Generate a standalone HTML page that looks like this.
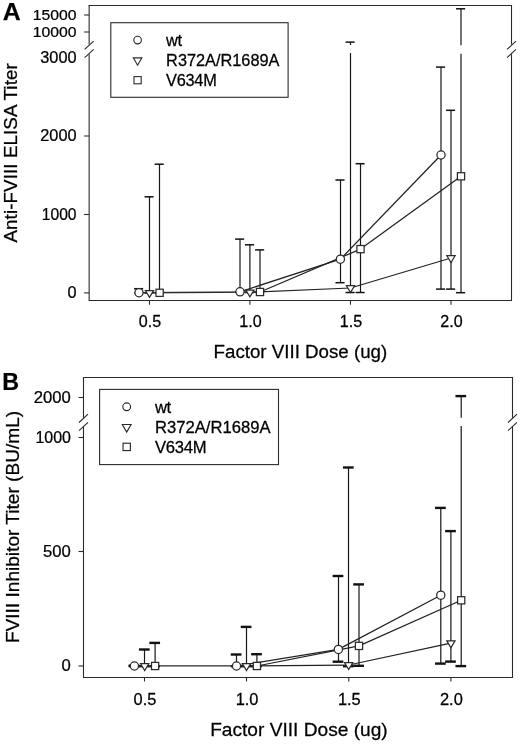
<!DOCTYPE html>
<html><head><meta charset="utf-8"><title>Figure</title>
<style>
html,body{margin:0;padding:0;background:#fff;}
svg{display:block;}
text{font-family:"Liberation Sans",sans-serif;}
</style></head>
<body>
<svg width="520" height="745" viewBox="0 0 520 745">
<rect x="0" y="0" width="520" height="745" fill="#fff"/>
<line x1="88.65" y1="5.50" x2="512.00" y2="5.50" stroke="#2a2a2a" stroke-width="1.1" />
<line x1="88.65" y1="300.50" x2="512.00" y2="300.50" stroke="#2a2a2a" stroke-width="1.1" />
<line x1="89.15" y1="5.30" x2="89.15" y2="44.60" stroke="#2a2a2a" stroke-width="1.1" />
<line x1="89.15" y1="54.20" x2="89.15" y2="300.50" stroke="#2a2a2a" stroke-width="1.1" />
<line x1="84.65" y1="49.40" x2="93.65" y2="41.10" stroke="#2a2a2a" stroke-width="1.1" />
<line x1="84.65" y1="57.70" x2="93.65" y2="49.40" stroke="#2a2a2a" stroke-width="1.1" />
<line x1="511.50" y1="5.30" x2="511.50" y2="44.60" stroke="#2a2a2a" stroke-width="1.1" />
<line x1="511.50" y1="54.20" x2="511.50" y2="300.50" stroke="#2a2a2a" stroke-width="1.1" />
<line x1="507.00" y1="49.40" x2="516.00" y2="41.10" stroke="#2a2a2a" stroke-width="1.1" />
<line x1="507.00" y1="57.70" x2="516.00" y2="49.40" stroke="#2a2a2a" stroke-width="1.1" />
<line x1="84.15" y1="15.00" x2="89.15" y2="15.00" stroke="#2a2a2a" stroke-width="1.1" />
<text transform="translate(76.55,20.00) scale(1.065,1)" font-size="14.77" text-anchor="end" font-weight="normal" letter-spacing="0" fill="#000" stroke="#000" stroke-width="0.25">15000</text>
<line x1="84.15" y1="32.00" x2="89.15" y2="32.00" stroke="#2a2a2a" stroke-width="1.1" />
<text transform="translate(76.55,37.00) scale(1.065,1)" font-size="14.77" text-anchor="end" font-weight="normal" letter-spacing="0" fill="#000" stroke="#000" stroke-width="0.25">10000</text>
<text transform="translate(76.55,62.60) scale(1.035,1)" font-size="15.80" text-anchor="end" font-weight="normal" letter-spacing="0" fill="#000" stroke="#000" stroke-width="0.25">3000</text>
<line x1="84.15" y1="136.00" x2="89.15" y2="136.00" stroke="#2a2a2a" stroke-width="1.1" />
<text transform="translate(76.55,141.30) scale(1.035,1)" font-size="15.80" text-anchor="end" font-weight="normal" letter-spacing="0" fill="#000" stroke="#000" stroke-width="0.25">2000</text>
<line x1="84.15" y1="214.50" x2="89.15" y2="214.50" stroke="#2a2a2a" stroke-width="1.1" />
<text transform="translate(76.55,219.75) scale(0.99,1)" font-size="15.80" text-anchor="end" font-weight="normal" letter-spacing="0" fill="#000" stroke="#000" stroke-width="0.25">1000</text>
<line x1="84.15" y1="292.90" x2="89.15" y2="292.90" stroke="#2a2a2a" stroke-width="1.1" />
<text transform="translate(76.55,298.20) scale(1.035,1)" font-size="15.80" text-anchor="end" font-weight="normal" letter-spacing="0" fill="#000" stroke="#000" stroke-width="0.25">0</text>
<line x1="149.50" y1="300.50" x2="149.50" y2="304.70" stroke="#2a2a2a" stroke-width="1.1" />
<text transform="translate(150.00,327.40) scale(1.02,1)" font-size="15.80" text-anchor="middle" font-weight="normal" letter-spacing="0" fill="#000" stroke="#000" stroke-width="0.25">0.5</text>
<line x1="249.90" y1="300.50" x2="249.90" y2="304.70" stroke="#2a2a2a" stroke-width="1.1" />
<text transform="translate(250.40,327.40) scale(1.02,1)" font-size="15.80" text-anchor="middle" font-weight="normal" letter-spacing="0" fill="#000" stroke="#000" stroke-width="0.25">1.0</text>
<line x1="350.50" y1="300.50" x2="350.50" y2="304.70" stroke="#2a2a2a" stroke-width="1.1" />
<text transform="translate(351.00,327.40) scale(1.02,1)" font-size="15.80" text-anchor="middle" font-weight="normal" letter-spacing="0" fill="#000" stroke="#000" stroke-width="0.25">1.5</text>
<line x1="451.00" y1="300.50" x2="451.00" y2="304.70" stroke="#2a2a2a" stroke-width="1.1" />
<text transform="translate(451.50,327.40) scale(1.02,1)" font-size="15.80" text-anchor="middle" font-weight="normal" letter-spacing="0" fill="#000" stroke="#000" stroke-width="0.25">2.0</text>
<line x1="139.00" y1="288.70" x2="139.00" y2="292.90" stroke="#161616" stroke-width="1.2" />
<line x1="134.05" y1="288.70" x2="143.15" y2="288.70" stroke="#111" stroke-width="1.5" />
<line x1="134.05" y1="292.90" x2="143.15" y2="292.90" stroke="#111" stroke-width="1.5" />
<line x1="240.00" y1="239.10" x2="240.00" y2="292.00" stroke="#161616" stroke-width="1.2" />
<line x1="235.05" y1="239.10" x2="244.15" y2="239.10" stroke="#111" stroke-width="1.5" />
<line x1="235.05" y1="292.00" x2="244.15" y2="292.00" stroke="#111" stroke-width="1.5" />
<line x1="340.50" y1="180.00" x2="340.50" y2="282.70" stroke="#161616" stroke-width="1.2" />
<line x1="335.45" y1="180.00" x2="344.55" y2="180.00" stroke="#111" stroke-width="1.5" />
<line x1="335.45" y1="282.70" x2="344.55" y2="282.70" stroke="#111" stroke-width="1.5" />
<line x1="441.00" y1="67.10" x2="441.00" y2="289.10" stroke="#161616" stroke-width="1.2" />
<line x1="436.05" y1="67.10" x2="445.15" y2="67.10" stroke="#111" stroke-width="1.5" />
<line x1="436.05" y1="289.10" x2="445.15" y2="289.10" stroke="#111" stroke-width="1.5" />
<line x1="149.50" y1="196.80" x2="149.50" y2="292.90" stroke="#161616" stroke-width="1.2" />
<line x1="144.55" y1="196.80" x2="153.65" y2="196.80" stroke="#111" stroke-width="1.5" />
<line x1="144.55" y1="292.90" x2="153.65" y2="292.90" stroke="#111" stroke-width="1.5" />
<line x1="249.90" y1="244.80" x2="249.90" y2="292.50" stroke="#161616" stroke-width="1.2" />
<line x1="244.95" y1="244.80" x2="254.05" y2="244.80" stroke="#111" stroke-width="1.5" />
<line x1="244.95" y1="292.50" x2="254.05" y2="292.50" stroke="#111" stroke-width="1.5" />
<line x1="350.50" y1="42.10" x2="350.50" y2="45.00" stroke="#161616" stroke-width="1.2" />
<line x1="350.50" y1="53.10" x2="350.50" y2="292.50" stroke="#161616" stroke-width="1.2" />
<line x1="345.55" y1="42.10" x2="354.65" y2="42.10" stroke="#111" stroke-width="1.5" />
<line x1="345.55" y1="292.50" x2="354.65" y2="292.50" stroke="#111" stroke-width="1.5" />
<line x1="451.00" y1="110.30" x2="451.00" y2="289.10" stroke="#161616" stroke-width="1.2" />
<line x1="446.05" y1="110.30" x2="455.15" y2="110.30" stroke="#111" stroke-width="1.5" />
<line x1="446.05" y1="289.10" x2="455.15" y2="289.10" stroke="#111" stroke-width="1.5" />
<line x1="159.50" y1="164.20" x2="159.50" y2="292.90" stroke="#161616" stroke-width="1.2" />
<line x1="154.65" y1="164.20" x2="163.75" y2="164.20" stroke="#111" stroke-width="1.5" />
<line x1="154.65" y1="292.90" x2="163.75" y2="292.90" stroke="#111" stroke-width="1.5" />
<line x1="260.00" y1="249.90" x2="260.00" y2="292.30" stroke="#161616" stroke-width="1.2" />
<line x1="255.05" y1="249.90" x2="264.15" y2="249.90" stroke="#111" stroke-width="1.5" />
<line x1="255.05" y1="292.30" x2="264.15" y2="292.30" stroke="#111" stroke-width="1.5" />
<line x1="360.50" y1="163.70" x2="360.50" y2="292.50" stroke="#161616" stroke-width="1.2" />
<line x1="355.55" y1="163.70" x2="364.65" y2="163.70" stroke="#111" stroke-width="1.5" />
<line x1="355.55" y1="292.50" x2="364.65" y2="292.50" stroke="#111" stroke-width="1.5" />
<line x1="461.00" y1="8.80" x2="461.00" y2="45.20" stroke="#161616" stroke-width="1.2" />
<line x1="461.00" y1="53.80" x2="461.00" y2="292.70" stroke="#161616" stroke-width="1.2" />
<line x1="456.05" y1="8.80" x2="465.15" y2="8.80" stroke="#111" stroke-width="1.5" />
<line x1="456.05" y1="292.70" x2="465.15" y2="292.70" stroke="#111" stroke-width="1.5" />
<line x1="240.00" y1="291.80" x2="340.40" y2="259.20" stroke="#222" stroke-width="1.25" />
<line x1="340.40" y1="259.20" x2="441.00" y2="155.00" stroke="#222" stroke-width="1.25" />
<line x1="249.90" y1="292.30" x2="350.50" y2="288.00" stroke="#222" stroke-width="1.25" />
<line x1="350.50" y1="288.00" x2="451.00" y2="258.00" stroke="#222" stroke-width="1.25" />
<line x1="260.00" y1="292.00" x2="360.50" y2="249.10" stroke="#222" stroke-width="1.25" />
<line x1="360.50" y1="249.10" x2="461.00" y2="176.30" stroke="#222" stroke-width="1.25" />
<line x1="139.00" y1="292.75" x2="260.00" y2="292.00" stroke="#2a2a2a" stroke-width="1.4" />
<circle cx="139.00" cy="292.70" r="4.1" fill="#fff" stroke="#2a2a2a" stroke-width="1.25"/>
<circle cx="240.00" cy="291.80" r="4.1" fill="#fff" stroke="#2a2a2a" stroke-width="1.25"/>
<circle cx="340.40" cy="259.20" r="4.1" fill="#fff" stroke="#2a2a2a" stroke-width="1.25"/>
<circle cx="441.00" cy="155.00" r="4.1" fill="#fff" stroke="#2a2a2a" stroke-width="1.25"/>
<polygon points="145.40,290.50 153.60,290.50 149.50,297.40" fill="#fff" stroke="#2a2a2a" stroke-width="1.25"/>
<polygon points="245.80,290.00 254.00,290.00 249.90,296.90" fill="#fff" stroke="#2a2a2a" stroke-width="1.25"/>
<polygon points="346.40,285.70 354.60,285.70 350.50,292.60" fill="#fff" stroke="#2a2a2a" stroke-width="1.25"/>
<polygon points="446.90,255.70 455.10,255.70 451.00,262.60" fill="#fff" stroke="#2a2a2a" stroke-width="1.25"/>
<rect x="156.00" y="289.20" width="7.2" height="7.2" fill="#fff" stroke="#2a2a2a" stroke-width="1.25"/>
<rect x="256.40" y="288.40" width="7.2" height="7.2" fill="#fff" stroke="#2a2a2a" stroke-width="1.25"/>
<rect x="356.90" y="245.50" width="7.2" height="7.2" fill="#fff" stroke="#2a2a2a" stroke-width="1.25"/>
<rect x="457.40" y="172.70" width="7.2" height="7.2" fill="#fff" stroke="#2a2a2a" stroke-width="1.25"/>
<rect x="110.8" y="22.7" width="177.3" height="74.6" fill="#fff" stroke="#2a2a2a" stroke-width="1.1"/>
<circle cx="137.60" cy="40.10" r="3.8" fill="#fff" stroke="#2a2a2a" stroke-width="1.1"/>
<polygon points="133.30,57.83 141.90,57.83 137.60,65.23" fill="#fff" stroke="#2a2a2a" stroke-width="1.1"/>
<rect x="134.00" y="76.60" width="7.2" height="7.2" fill="#fff" stroke="#2a2a2a" stroke-width="1.1"/>
<text transform="translate(166.10,45.70) scale(1.04,1)" font-size="15.70" text-anchor="start" font-weight="normal" letter-spacing="-0.3" fill="#000" stroke="#000" stroke-width="0.25">wt</text>
<text transform="translate(166.10,65.80) scale(1.04,1)" font-size="15.70" text-anchor="start" font-weight="normal" letter-spacing="0" fill="#000" stroke="#000" stroke-width="0.25">R372A/R1689A</text>
<text transform="translate(166.10,85.90) scale(1.04,1)" font-size="15.70" text-anchor="start" font-weight="normal" letter-spacing="-0.25" fill="#000" stroke="#000" stroke-width="0.25">V634M</text>
<line x1="83.00" y1="377.50" x2="513.00" y2="377.50" stroke="#2a2a2a" stroke-width="1.1" />
<line x1="83.00" y1="677.50" x2="513.00" y2="677.50" stroke="#2a2a2a" stroke-width="1.1" />
<line x1="83.50" y1="377.50" x2="83.50" y2="417.80" stroke="#2a2a2a" stroke-width="1.1" />
<line x1="83.50" y1="426.60" x2="83.50" y2="677.30" stroke="#2a2a2a" stroke-width="1.1" />
<line x1="79.00" y1="422.50" x2="88.00" y2="414.10" stroke="#2a2a2a" stroke-width="1.1" />
<line x1="79.00" y1="430.70" x2="88.00" y2="422.30" stroke="#2a2a2a" stroke-width="1.1" />
<line x1="512.50" y1="377.50" x2="512.50" y2="417.80" stroke="#2a2a2a" stroke-width="1.1" />
<line x1="512.50" y1="426.60" x2="512.50" y2="677.30" stroke="#2a2a2a" stroke-width="1.1" />
<line x1="508.00" y1="422.50" x2="517.00" y2="414.10" stroke="#2a2a2a" stroke-width="1.1" />
<line x1="508.00" y1="430.70" x2="517.00" y2="422.30" stroke="#2a2a2a" stroke-width="1.1" />
<line x1="78.50" y1="397.50" x2="83.50" y2="397.50" stroke="#2a2a2a" stroke-width="1.1" />
<text transform="translate(70.90,402.80) scale(1.035,1)" font-size="16.12" text-anchor="end" font-weight="normal" letter-spacing="0" fill="#000" stroke="#000" stroke-width="0.25">2000</text>
<line x1="78.50" y1="437.50" x2="83.50" y2="437.50" stroke="#2a2a2a" stroke-width="1.1" />
<text transform="translate(70.90,443.00) scale(0.99,1)" font-size="16.12" text-anchor="end" font-weight="normal" letter-spacing="0" fill="#000" stroke="#000" stroke-width="0.25">1000</text>
<line x1="78.50" y1="551.50" x2="83.50" y2="551.50" stroke="#2a2a2a" stroke-width="1.1" />
<text transform="translate(70.90,556.80) scale(1.035,1)" font-size="16.12" text-anchor="end" font-weight="normal" letter-spacing="0" fill="#000" stroke="#000" stroke-width="0.25">500</text>
<line x1="78.50" y1="666.00" x2="83.50" y2="666.00" stroke="#2a2a2a" stroke-width="1.1" />
<text transform="translate(70.90,671.30) scale(1.035,1)" font-size="16.12" text-anchor="end" font-weight="normal" letter-spacing="0" fill="#000" stroke="#000" stroke-width="0.25">0</text>
<line x1="144.50" y1="677.30" x2="144.50" y2="681.50" stroke="#2a2a2a" stroke-width="1.1" />
<text transform="translate(145.00,704.60) scale(1.02,1)" font-size="16.12" text-anchor="middle" font-weight="normal" letter-spacing="0" fill="#000" stroke="#000" stroke-width="0.25">0.5</text>
<line x1="246.50" y1="677.30" x2="246.50" y2="681.50" stroke="#2a2a2a" stroke-width="1.1" />
<text transform="translate(247.10,704.60) scale(1.02,1)" font-size="16.12" text-anchor="middle" font-weight="normal" letter-spacing="0" fill="#000" stroke="#000" stroke-width="0.25">1.0</text>
<line x1="348.80" y1="677.30" x2="348.80" y2="681.50" stroke="#2a2a2a" stroke-width="1.1" />
<text transform="translate(349.30,704.60) scale(1.02,1)" font-size="16.12" text-anchor="middle" font-weight="normal" letter-spacing="0" fill="#000" stroke="#000" stroke-width="0.25">1.5</text>
<line x1="450.90" y1="677.30" x2="450.90" y2="681.50" stroke="#2a2a2a" stroke-width="1.1" />
<text transform="translate(451.40,704.60) scale(1.02,1)" font-size="16.12" text-anchor="middle" font-weight="normal" letter-spacing="0" fill="#000" stroke="#000" stroke-width="0.25">2.0</text>
<line x1="134.50" y1="665.60" x2="134.50" y2="666.20" stroke="#161616" stroke-width="1.2" />
<line x1="128.65" y1="665.60" x2="139.35" y2="665.60" stroke="#111" stroke-width="2.4" />
<line x1="128.65" y1="666.20" x2="139.35" y2="666.20" stroke="#111" stroke-width="2.4" />
<line x1="236.50" y1="654.50" x2="236.50" y2="666.20" stroke="#161616" stroke-width="1.2" />
<line x1="230.75" y1="654.50" x2="241.45" y2="654.50" stroke="#111" stroke-width="2.4" />
<line x1="230.75" y1="666.20" x2="241.45" y2="666.20" stroke="#111" stroke-width="2.4" />
<line x1="338.50" y1="576.00" x2="338.50" y2="661.70" stroke="#161616" stroke-width="1.2" />
<line x1="332.65" y1="576.00" x2="343.35" y2="576.00" stroke="#111" stroke-width="2.4" />
<line x1="332.65" y1="661.70" x2="343.35" y2="661.70" stroke="#111" stroke-width="2.4" />
<line x1="440.80" y1="507.90" x2="440.80" y2="663.60" stroke="#161616" stroke-width="1.2" />
<line x1="435.05" y1="507.90" x2="445.75" y2="507.90" stroke="#111" stroke-width="2.4" />
<line x1="435.05" y1="663.60" x2="445.75" y2="663.60" stroke="#111" stroke-width="2.4" />
<line x1="144.50" y1="649.50" x2="144.50" y2="666.20" stroke="#161616" stroke-width="1.2" />
<line x1="138.95" y1="649.50" x2="149.65" y2="649.50" stroke="#111" stroke-width="2.4" />
<line x1="138.95" y1="666.20" x2="149.65" y2="666.20" stroke="#111" stroke-width="2.4" />
<line x1="246.50" y1="626.90" x2="246.50" y2="666.20" stroke="#161616" stroke-width="1.2" />
<line x1="240.75" y1="626.90" x2="251.45" y2="626.90" stroke="#111" stroke-width="2.4" />
<line x1="240.75" y1="666.20" x2="251.45" y2="666.20" stroke="#111" stroke-width="2.4" />
<line x1="348.50" y1="467.50" x2="348.50" y2="666.20" stroke="#161616" stroke-width="1.2" />
<line x1="342.95" y1="467.50" x2="353.65" y2="467.50" stroke="#111" stroke-width="2.4" />
<line x1="342.95" y1="666.20" x2="353.65" y2="666.20" stroke="#111" stroke-width="2.4" />
<line x1="450.90" y1="531.10" x2="450.90" y2="661.60" stroke="#161616" stroke-width="1.2" />
<line x1="445.15" y1="531.10" x2="455.85" y2="531.10" stroke="#111" stroke-width="2.4" />
<line x1="445.15" y1="661.60" x2="455.85" y2="661.60" stroke="#111" stroke-width="2.4" />
<line x1="155.10" y1="642.90" x2="155.10" y2="666.20" stroke="#161616" stroke-width="1.2" />
<line x1="149.35" y1="642.90" x2="160.05" y2="642.90" stroke="#111" stroke-width="2.4" />
<line x1="149.35" y1="666.20" x2="160.05" y2="666.20" stroke="#111" stroke-width="2.4" />
<line x1="256.90" y1="654.20" x2="256.90" y2="666.20" stroke="#161616" stroke-width="1.2" />
<line x1="251.15" y1="654.20" x2="261.85" y2="654.20" stroke="#111" stroke-width="2.4" />
<line x1="251.15" y1="666.20" x2="261.85" y2="666.20" stroke="#111" stroke-width="2.4" />
<line x1="359.00" y1="584.40" x2="359.00" y2="665.80" stroke="#161616" stroke-width="1.2" />
<line x1="353.25" y1="584.40" x2="363.95" y2="584.40" stroke="#111" stroke-width="2.4" />
<line x1="353.25" y1="665.80" x2="363.95" y2="665.80" stroke="#111" stroke-width="2.4" />
<line x1="461.20" y1="396.10" x2="461.20" y2="417.80" stroke="#161616" stroke-width="1.2" />
<line x1="461.20" y1="426.10" x2="461.20" y2="666.10" stroke="#161616" stroke-width="1.2" />
<line x1="455.45" y1="396.10" x2="466.15" y2="396.10" stroke="#111" stroke-width="2.4" />
<line x1="455.45" y1="666.10" x2="466.15" y2="666.10" stroke="#111" stroke-width="2.4" />
<line x1="236.50" y1="666.00" x2="338.40" y2="649.40" stroke="#222" stroke-width="1.25" />
<line x1="338.40" y1="649.40" x2="440.80" y2="595.20" stroke="#222" stroke-width="1.25" />
<line x1="246.50" y1="666.00" x2="348.70" y2="665.00" stroke="#222" stroke-width="1.25" />
<line x1="348.70" y1="665.00" x2="450.90" y2="643.20" stroke="#222" stroke-width="1.25" />
<line x1="256.90" y1="666.00" x2="359.00" y2="645.90" stroke="#222" stroke-width="1.25" />
<line x1="359.00" y1="645.90" x2="461.20" y2="600.30" stroke="#222" stroke-width="1.25" />
<line x1="134.40" y1="665.90" x2="256.90" y2="665.90" stroke="#2a2a2a" stroke-width="1.4" />
<circle cx="134.40" cy="666.00" r="4.1" fill="#fff" stroke="#2a2a2a" stroke-width="1.25"/>
<circle cx="236.50" cy="666.00" r="4.1" fill="#fff" stroke="#2a2a2a" stroke-width="1.25"/>
<circle cx="338.40" cy="649.40" r="4.1" fill="#fff" stroke="#2a2a2a" stroke-width="1.25"/>
<circle cx="440.80" cy="595.20" r="4.1" fill="#fff" stroke="#2a2a2a" stroke-width="1.25"/>
<polygon points="140.60,663.70 148.80,663.70 144.70,670.60" fill="#fff" stroke="#2a2a2a" stroke-width="1.25"/>
<polygon points="242.40,663.70 250.60,663.70 246.50,670.60" fill="#fff" stroke="#2a2a2a" stroke-width="1.25"/>
<polygon points="344.60,662.70 352.80,662.70 348.70,669.60" fill="#fff" stroke="#2a2a2a" stroke-width="1.25"/>
<polygon points="446.80,640.90 455.00,640.90 450.90,647.80" fill="#fff" stroke="#2a2a2a" stroke-width="1.25"/>
<rect x="151.50" y="662.40" width="7.2" height="7.2" fill="#fff" stroke="#2a2a2a" stroke-width="1.25"/>
<rect x="253.30" y="662.40" width="7.2" height="7.2" fill="#fff" stroke="#2a2a2a" stroke-width="1.25"/>
<rect x="355.40" y="642.30" width="7.2" height="7.2" fill="#fff" stroke="#2a2a2a" stroke-width="1.25"/>
<rect x="457.60" y="596.70" width="7.2" height="7.2" fill="#fff" stroke="#2a2a2a" stroke-width="1.25"/>
<rect x="99.6" y="389.4" width="178.9" height="75.2" fill="#fff" stroke="#2a2a2a" stroke-width="1.1"/>
<circle cx="126.70" cy="406.80" r="3.876" fill="#fff" stroke="#2a2a2a" stroke-width="1.15"/>
<polygon points="122.31,424.48 131.09,424.48 126.70,432.03" fill="#fff" stroke="#2a2a2a" stroke-width="1.15"/>
<rect x="123.03" y="443.23" width="7.344" height="7.344" fill="#fff" stroke="#2a2a2a" stroke-width="1.15"/>
<text transform="translate(154.90,412.70) scale(1.04,1)" font-size="16.01" text-anchor="start" font-weight="normal" letter-spacing="-0.3" fill="#000" stroke="#000" stroke-width="0.25">wt</text>
<text transform="translate(154.90,432.80) scale(1.04,1)" font-size="16.01" text-anchor="start" font-weight="normal" letter-spacing="0" fill="#000" stroke="#000" stroke-width="0.25">R372A/R1689A</text>
<text transform="translate(154.90,452.90) scale(1.04,1)" font-size="16.01" text-anchor="start" font-weight="normal" letter-spacing="-0.25" fill="#000" stroke="#000" stroke-width="0.25">V634M</text>
<text transform="translate(2.70,20.00) scale(1.0,1)" font-size="24.80" text-anchor="start" font-weight="bold" letter-spacing="0" fill="#000" stroke="#000" stroke-width="0.25">A</text>
<text transform="translate(2.15,390.30) scale(0.97,1)" font-size="24.00" text-anchor="start" font-weight="bold" letter-spacing="0" fill="#000" stroke="#000" stroke-width="0.25">B</text>
<text transform="translate(300.40,358.30) scale(1.04,1)" font-size="18.00" text-anchor="middle" font-weight="normal" letter-spacing="0" fill="#000" stroke="#000" stroke-width="0.25">Factor VIII Dose (ug)</text>
<text transform="translate(298.90,735.50) scale(1.04,1)" font-size="18.40" text-anchor="middle" font-weight="normal" letter-spacing="0" fill="#000" stroke="#000" stroke-width="0.25">Factor VIII Dose (ug)</text>
<text transform="translate(16.50,152.85) rotate(-90) scale(1.04,1)" font-size="18.00" text-anchor="middle" font-weight="normal" letter-spacing="0.11" fill="#000" stroke="#000" stroke-width="0.25">Anti-FVIII ELISA Titer</text>
<text transform="translate(18.75,527.00) rotate(-90) scale(1.04,1)" font-size="18.36" text-anchor="middle" font-weight="normal" letter-spacing="0" fill="#000" stroke="#000" stroke-width="0.25">FVIII Inhibitor Titer (BU/mL)</text>
</svg>
</body></html>
